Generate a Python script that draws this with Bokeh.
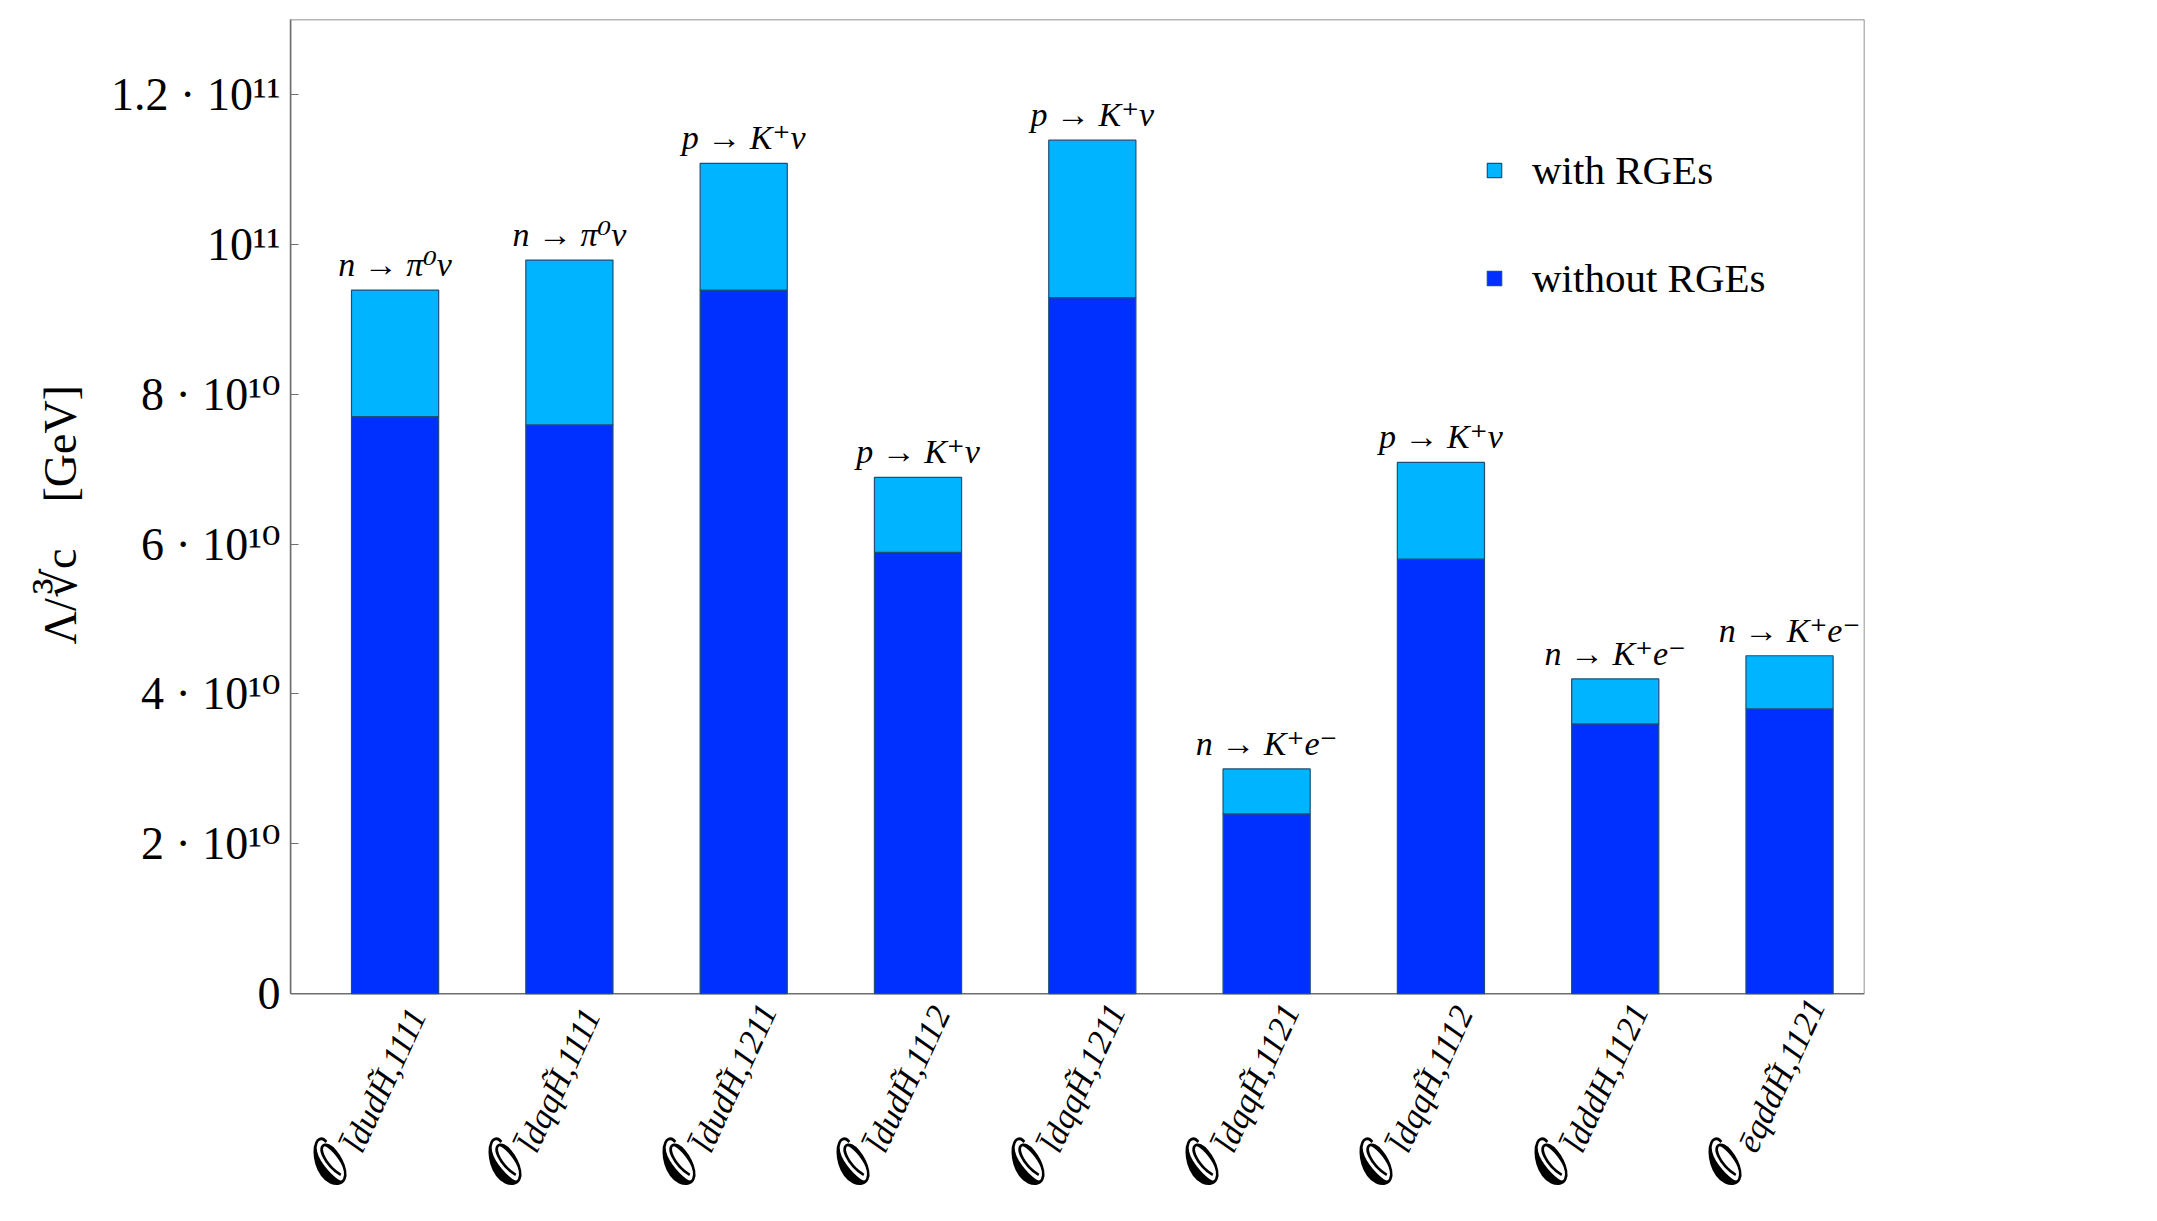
import math
from bokeh.plotting import figure
from bokeh.models import (Range1d, FixedTicker, ColumnDataSource, LabelSet,
                          Legend, LegendItem)
from bokeh.core.properties import value
from bokeh.embed import file_html
from bokeh.resources import INLINE

# ---------------- data (values in units of 10^10 GeV) ----------------
positions = [1, 2, 3, 4, 5, 6, 7, 8, 9]
operators = ["l̄dudH̃,1111", "l̄dqqH̃,1111", "l̄dudH̃,1211", "l̄dudH̃,1112",
             "l̄dqqH̃,1211", "l̄dqqH̃,1121", "l̄dqqH̃,1112", "l̄dddH,1121",
             "ēqddH̃,1121"]
with_rge = [9.39, 9.79, 11.08, 6.89, 11.39, 3.00, 7.09, 4.20, 4.51]
without_rge = [7.70, 7.59, 9.39, 5.89, 9.29, 2.40, 5.80, 3.60, 3.80]
processes = ["n → π⁰ν", "n → π⁰ν", "p → K⁺ν", "p → K⁺ν", "p → K⁺ν",
             "n → K⁺e⁻", "p → K⁺ν", "n → K⁺e⁻", "n → K⁺e⁻"]
y_ticks = [0, 2, 4, 6, 8, 10, 12]
y_tick_labels = ["0", "2 · 10¹⁰", "4 · 10¹⁰", "6 · 10¹⁰", "8 · 10¹⁰",
                 "10¹¹", "1.2 · 10¹¹"]
y_title = "Λ/∛c\u2003[GeV]"

# axis extents
x_lo, x_hi = 0.4, 9.43
y_hi = 13
y_lo_frame = -2.826   # extra room below zero for the operator labels

LIGHT = "#00B4FF"
DARK = "#0030FF"
EDGE = "#1f4f73"
GRAY = "#6e6e6e"
FONT = "Liberation Serif, DejaVu Serif"

src = ColumnDataSource(dict(x=positions, with_rge=with_rge,
                            without_rge=without_rge, proc=processes,
                            op=operators, O=["𝒪"] * len(positions)))

p = figure(width=2141, height=1205, output_backend="svg",
           toolbar_location=None, x_range=Range1d(x_lo, x_hi),
           y_range=Range1d(y_lo_frame, y_hi), x_axis_location=None,
           min_border_left=290, min_border_right=277,
           min_border_top=19, min_border_bottom=0)
p.xgrid.visible = False
p.ygrid.visible = False
p.outline_line_color = None
p.background_fill_color = "white"
p.border_fill_color = "white"

# plot box
p.quad(left=x_lo, right=x_hi, bottom=0, top=y_hi, fill_color=None,
       line_color=GRAY, line_width=1.5)

r_dark = p.vbar(x="x", width=0.5, bottom=0, top="without_rge", source=src,
                fill_color=DARK, line_color=EDGE, line_width=1.2)
r_light = p.vbar(x="x", width=0.5, bottom="without_rge", top="with_rge",
                 source=src, fill_color=LIGHT, line_color=EDGE, line_width=1.2)

ax = p.yaxis[0]
ax.bounds = (0, y_hi)
ax.ticker = FixedTicker(ticks=y_ticks)
ax.major_label_overrides = {t: lab for t, lab in zip(y_ticks, y_tick_labels)}
ax.major_label_text_font = FONT
ax.major_label_text_font_size = "46px"
ax.major_label_text_color = "black"
ax.major_label_standoff = 10
ax.major_tick_in = 8
ax.major_tick_out = 0
ax.minor_tick_line_color = None
ax.major_tick_line_color = GRAY
ax.axis_line_color = GRAY
ax.axis_line_width = 1.5
# leading fixed-width spaces keep the title centred on the 0..1.3e11 part of the axis
ax.axis_label = "\u2003\u2003\u2003\u2003\u2005" + y_title
ax.axis_label_text_font = FONT
ax.axis_label_text_font_style = "normal"
ax.axis_label_text_font_size = "46px"
ax.axis_label_text_color = "black"
ax.axis_label_standoff = 22

# process annotations above bars
p.add_layout(LabelSet(x="x", y="with_rge", text="proc", source=src,
                      y_offset=14, text_align="center",
                      text_baseline="alphabetic", text_font=value(FONT),
                      text_font_style="italic", text_font_size="34px",
                      text_color="black"))

ang = math.radians(65)
# operator labels below the axis: script O + subscript
p.add_layout(LabelSet(x="x", y=0, text="op", source=src, angle=ang,
                      x_offset=-33, y_offset=-161, text_align="left",
                      text_baseline="alphabetic", text_font=value(FONT),
                      text_font_style="italic", text_font_size="34px",
                      text_color="black"))
p.add_layout(LabelSet(x="x", y=0, text="O", source=src, angle=ang,
                      x_offset=-40, y_offset=-163, text_align="right",
                      text_baseline="alphabetic", text_font=value(FONT),
                      text_font_style="bold", text_font_size="58px",
                      text_color="black"))

legend = Legend(items=[LegendItem(label="with RGEs", renderers=[r_light]),
                       LegendItem(label="without RGEs", renderers=[r_dark])],
                location=(1195, 903), orientation="vertical",
                glyph_width=18, glyph_height=18, label_height=46,
                label_standoff=29, spacing=60, padding=0, margin=0,
                border_line_color=None, background_fill_alpha=0,
                label_text_font=FONT, label_text_font_size="41px",
                label_text_color="black", label_text_baseline="middle")
p.add_layout(legend)

open("out.html", "w").write(file_html(p, INLINE))
